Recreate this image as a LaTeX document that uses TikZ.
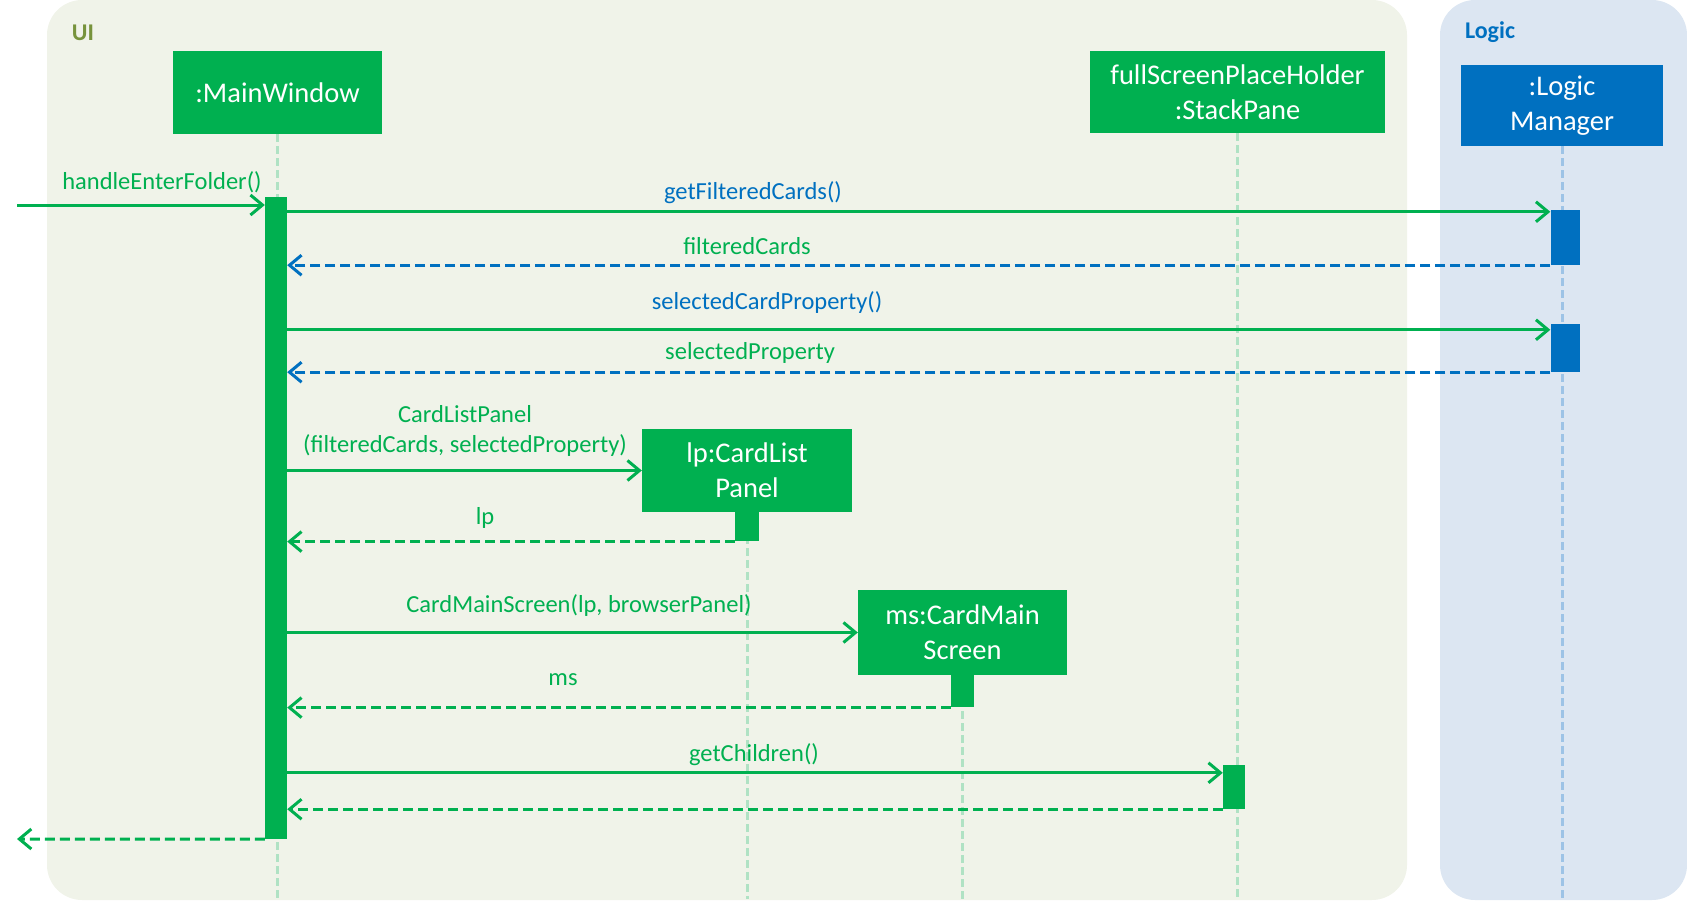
\documentclass[tikz,border=0pt]{standalone}
\usepackage{fontspec}
\setmainfont{Carlito}
\usepackage{xcolor}
\usepackage{tikz}
\usetikzlibrary{arrows.meta,positioning,calc}
\definecolor{uigreen}{RGB}{0,176,80}
\definecolor{logicblue}{RGB}{0,112,192}
\definecolor{uibg}{RGB}{240,243,233}
\definecolor{logicbg}{RGB}{220,230,242}
\definecolor{uilabel}{RGB}{119,147,60}
\definecolor{uilife}{RGB}{176,226,196}
\definecolor{logiclife}{RGB}{157,195,230}

\begin{document}
\begin{tikzpicture}[x=1pt, y=-1pt,
    uibox/.style={rectangle, fill=uigreen, text=white, align=center, inner sep=0pt, font=\fontsize{28.5}{35}\selectfont},
    logicbox/.style={uibox, fill=logicblue},
    uiact/.style={rectangle, fill=uigreen, inner sep=0pt, minimum width=22pt},
    logicact/.style={uiact, fill=logicblue, minimum width=29pt},
    life/.style={draw=uilife, line width=3pt, dash pattern=on 8pt off 4pt},
    logiclife/.style={life, draw=logiclife},
    call/.style={-{Straight Barb[length=12pt,width=20pt]}, line width=3pt, draw=uigreen},
    ret/.style={call, dash pattern=on 10pt off 5pt},
    logicret/.style={ret, draw=logicblue},
    msg/.style={font=\fontsize{24.5}{30}\selectfont, text=uigreen, align=center, inner sep=0pt},
    logicmsg/.style={msg, text=logicblue},
    lanetitle/.style={font=\fontsize{24}{28}\selectfont\bfseries, inner sep=0pt}
]
\useasboundingbox (0,0) rectangle (1687,902);

% swimlanes
\fill[uibg, rounded corners=35pt] (47,0) rectangle (1407,900);
\fill[logicbg, rounded corners=35pt] (1440,0) rectangle (1687,900);
\node[lanetitle, text=uilabel] (uititle) at (83,33) {UI};
\node[lanetitle, text=logicblue] (logictitle) at (1490,32) {Logic};

% objects
\node[uibox, minimum width=209pt, minimum height=83pt] (mw) at (277.5,92.5) {:MainWindow};
\node[uibox, minimum width=295pt, minimum height=82pt] (sp) at (1237.5,92) {fullScreenPlaceHolder\\:StackPane};
\node[logicbox, minimum width=202pt, minimum height=81pt] (lm) at (1562,105.5) {:Logic\\Manager};
\node[uibox, minimum width=210pt, minimum height=83pt] (lp) at (747,470.5) {lp:CardList\\Panel};
\node[uibox, minimum width=209pt, minimum height=85pt] (ms) at (962.5,632.5) {ms:CardMain\\Screen};

% lifelines
\coordinate (bottom) at (0,899);
\draw[life] (mw.south) -- (mw.south |- bottom);
\draw[life] (sp.south) -- (sp.south |- bottom);
\draw[logiclife] (lm.south) -- (lm.south |- bottom);
\draw[life] (lp.south) -- (lp.south |- bottom);
\draw[life] (ms.south) -- (ms.south |- bottom);

% activations
\node[uiact, minimum height=642pt] (mwact) at (276,518) {};
\node[logicact, minimum height=55pt] (lact1) at (1565,237.5) {};
\node[logicact, minimum height=48pt] (lact2) at (1565,348) {};
\node[uiact, minimum height=29pt, minimum width=24pt, below=0pt of lp] (lpact) {};
\node[uiact, minimum height=32pt, minimum width=23pt, below=0pt of ms] (msact) {};
\node[uiact, minimum height=44pt] (spact) at (1234,787) {};

% messages
\coordinate (in) at (17,205);
\coordinate (out) at (17,839);
\coordinate (gfc) at ([yshift=-2pt]lact1.north west);
\coordinate (scp) at ([yshift=-6pt]lact2.north west);
\coordinate (gc) at ([yshift=-8pt]spact.north west);

\draw[call] (in) -- (in -| mwact.west);
\draw[call] (mwact.east |- gfc) -- (gfc);
\draw[logicret] (lact1.south west) -- (mwact.east |- lact1.south west);
\draw[call] (mwact.east |- scp) -- (scp);
\draw[logicret] (lact2.south west) -- (mwact.east |- lact2.south west);
\draw[call] (mwact.east |- lp.west) -- (lp.west);
\draw[ret] (lpact.south west) -- (mwact.east |- lpact.south west);
\draw[call] (mwact.east |- ms.west) -- (ms.west);
\draw[ret] (msact.south west) -- (mwact.east |- msact.south west);
\draw[call] (mwact.east |- gc) -- (gc);
\draw[ret] (spact.south west) -- (mwact.east |- spact.south west);
\draw[ret] (mwact.south west) -- (out);

% labels
\node[msg] (lhef) at (162,182) {handleEnterFolder()};
\node[logicmsg] (lgfc) at (753,193) {getFilteredCards()};
\node[msg] (lfc) at (747,246) {filteredCards};
\node[logicmsg] (lscp) at (767,303) {selectedCardProperty()};
\node[msg] (lsp) at (750,353) {selectedProperty};
\node[msg] (lclp) at (465,431) {CardListPanel\\(filteredCards, selectedProperty)};
\node[msg] (llp) at (485,518) {lp};
\node[msg] (lcms) at (579,606) {CardMainScreen(lp, browserPanel)};
\node[msg] (lms) at (563,680) {ms};
\node[msg] (lgc) at (754,755) {getChildren()};

\end{tikzpicture}
\end{document}
